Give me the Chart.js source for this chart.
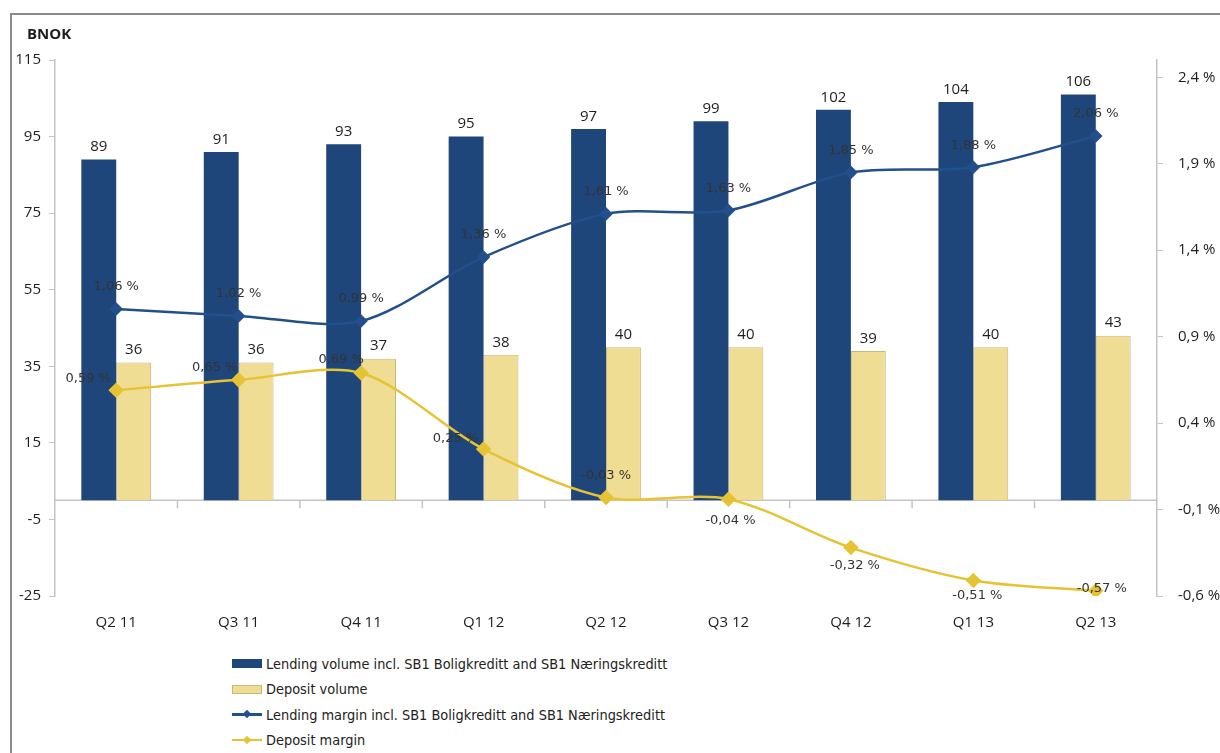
<!DOCTYPE html>
<html>
<head>
<meta charset="utf-8">
<title>Volumes and margins</title>
<script src="https://cdn.jsdelivr.net/npm/chart.js@4.4.1/dist/chart.umd.min.js"></script>
<style>
    body { margin: 0; background: #fff; width: 1220px; height: 753px; overflow: hidden; }
    .frame {
        position: absolute; left: 10px; top: 13px; width: 1210px; height: 740px;
        border-top: 2px solid #8c8c8c; border-left: 2px solid #8c8c8c;
    }
    #chart { position: absolute; left: 0; top: 0; }
    .legend {
        position: absolute; left: 220px; top: 636px;
        font-family: 'DejaVu Sans Condensed', 'DejaVu Sans', sans-serif; font-size: 14.4px; color: #222;
    }
    .legend-item { display: flex; align-items: center; height: 25.5px; }
    .swatch { position: relative; width: 30px; height: 9px; margin-right: 4px; box-sizing: border-box; }
    .swatch .stroke { position: absolute; left: 0; top: 3px; width: 30px; height: 2.5px; }
    .swatch .diamond { position: absolute; left: 12px; top: 1px; width: 6px; height: 6px; transform: rotate(45deg); }
</style>
</head>
<body>
<div class="frame">
    <canvas id="chart" width="1208" height="620"></canvas>
    <div class="legend" id="legend"></div>
</div>
<script>
const quarters = ['Q2 11', 'Q3 11', 'Q4 11', 'Q1 12', 'Q2 12', 'Q3 12', 'Q4 12', 'Q1 13', 'Q2 13'];
const lendingVolume = [89, 91, 93, 95, 97, 99, 102, 104, 106];
const depositVolume = [36, 36, 37, 38, 40, 40, 39, 40, 43];
const lendingMargin = [1.06, 1.02, 0.99, 1.36, 1.61, 1.63, 1.85, 1.88, 2.06];
const depositMargin = [0.59, 0.65, 0.69, 0.25, -0.03, -0.04, -0.32, -0.51, -0.57];
const volumeMin = -25;
const volumeMax = 115;
const volumeStep = 20;
const marginTicks = [-0.6, -0.1, 0.4, 0.9, 1.4, 1.9, 2.4];
const marginMax = 2.5;
const unitLabel = 'BNOK';

const seriesNames = [
    'Lending volume incl. SB1 Boligkreditt and SB1 Næringskreditt',
    'Deposit volume',
    'Lending margin incl. SB1 Boligkreditt and SB1 Næringskreditt',
    'Deposit margin'
];

const DARK_BLUE = '#1f467a';
const LINE_BLUE = '#22508c';
const SAND = '#f0dd94';
const GOLD = '#e6c332';
const AXIS_GREY = '#c4c4c4';
const TEXT = '#1e1e1e';

const formatPercent = v => v.toFixed(2).replace('.', ',') + ' %';

// label offsets for the deposit margin points, the way the original places them
const depositLabelOffsets = [[-28, -12], [-24, -12], [-20, -13], [-28, -10], [0, -22], [2, 21], [4, 18], [4, 15], [6, -2]];

const zeroLinePlugin = {
    id: 'zeroLine',
    beforeDatasetsDraw(chart) {
        const { ctx, chartArea, scales } = chart;
        const y0 = scales.y.getPixelForValue(0);
        ctx.save();
        ctx.strokeStyle = AXIS_GREY;
        ctx.lineWidth = 1.5;
        ctx.beginPath();
        ctx.moveTo(chartArea.left, y0);
        ctx.lineTo(chartArea.right, y0);
        for (let i = 0; i < quarters.length - 1; i++) {
            const x = (scales.x.getPixelForValue(i) + scales.x.getPixelForValue(i + 1)) / 2;
            ctx.moveTo(x, y0);
            ctx.lineTo(x, y0 + 8);
        }
        ctx.stroke();
        ctx.restore();
    }
};

const valueLabelPlugin = {
    id: 'valueLabels',
    afterDatasetsDraw(chart) {
        const { ctx } = chart;
        ctx.save();
        ctx.textAlign = 'center';
        chart.data.datasets.forEach((ds, di) => {
            const meta = chart.getDatasetMeta(di);
            meta.data.forEach((el, i) => {
                const v = ds.data[i];
                if (ds.type === 'bar') {
                    ctx.font = '15px "Open Sans", sans-serif';
                    ctx.fillStyle = TEXT;
                    ctx.textBaseline = 'bottom';
                    ctx.fillText(String(v), el.x, el.y - 5);
                } else {
                    const off = di === 3 ? depositLabelOffsets[i] : [0, -22];
                    ctx.font = '13px "DejaVu Sans", sans-serif';
                    ctx.fillStyle = '#333';
                    ctx.textBaseline = 'middle';
                    ctx.fillText(formatPercent(v), el.x + off[0], el.y + off[1]);
                }
            });
        });
        ctx.font = 'bold 15px "Open Sans", sans-serif';
        ctx.fillStyle = TEXT;
        ctx.textAlign = 'left';
        ctx.textBaseline = 'middle';
        ctx.fillText(unitLabel, chart.chartArea.left - 28, chart.chartArea.top - 25);
        ctx.restore();
    }
};

const chart = new Chart(document.getElementById('chart'), {
    data: {
        labels: quarters,
        datasets: [
            {
                type: 'bar', label: seriesNames[0], data: lendingVolume, yAxisID: 'y', order: 2,
                backgroundColor: DARK_BLUE, borderColor: DARK_BLUE, borderWidth: 0,
                categoryPercentage: 0.57, barPercentage: 1.0
            },
            {
                type: 'bar', label: seriesNames[1], data: depositVolume, yAxisID: 'y', order: 2,
                backgroundColor: SAND, borderColor: '#c9b87c', borderWidth: 1,
                categoryPercentage: 0.57, barPercentage: 1.0
            },
            {
                type: 'line', label: seriesNames[2], data: lendingMargin, yAxisID: 'y1', order: 1,
                borderColor: LINE_BLUE, backgroundColor: LINE_BLUE, borderWidth: 2.5,
                pointStyle: 'rectRot', pointRadius: 5, tension: 0.3
            },
            {
                type: 'line', label: seriesNames[3], data: depositMargin, yAxisID: 'y1', order: 0,
                borderColor: GOLD, backgroundColor: GOLD, borderWidth: 2.5,
                pointStyle: 'rectRot', pointRadius: 6, tension: 0.3
            }
        ]
    },
    options: {
        responsive: false,
        animation: false,
        layout: { padding: { top: 45, left: 0, right: 0, bottom: 0 } },
        plugins: {
            legend: { display: false },
            tooltip: { enabled: false }
        },
        scales: {
            x: {
                grid: { display: false },
                border: { display: false },
                ticks: { padding: 10, color: TEXT, font: { family: 'Open Sans', size: 15 } },
                afterFit: s => { s.height = 39; }
            },
            y: {
                position: 'left',
                min: volumeMin, max: volumeMax,
                ticks: { stepSize: volumeStep, padding: 8, color: TEXT, font: { family: 'Open Sans', size: 15 } },
                grid: { drawOnChartArea: false, tickLength: 6, color: AXIS_GREY },
                border: { color: AXIS_GREY, width: 1.5 },
                afterFit: s => { s.width = 43; }
            },
            y1: {
                position: 'right',
                min: marginTicks[0], max: marginMax,
                afterBuildTicks: s => { s.ticks = marginTicks.map(v => ({ value: v })); },
                ticks: {
                    padding: 15, color: TEXT, font: { family: 'Open Sans', size: 15 },
                    callback: v => v.toFixed(1).replace('.', ',') + ' %'
                },
                grid: { drawOnChartArea: false, tickLength: 6, color: AXIS_GREY },
                border: { color: AXIS_GREY, width: 1.5 },
                afterFit: s => { s.width = 63; }
            }
        }
    },
    plugins: [zeroLinePlugin, valueLabelPlugin]
});

function buildLegend(chart) {
    const box = document.getElementById('legend');
    chart.data.datasets.forEach(ds => {
        const item = document.createElement('div');
        item.className = 'legend-item';
        const swatch = document.createElement('div');
        swatch.className = 'swatch';
        if (ds.type === 'bar') {
            swatch.style.background = ds.backgroundColor;
            if (ds.borderWidth) swatch.style.border = '1px solid ' + ds.borderColor;
        } else {
            swatch.innerHTML = `<span class="stroke" style="background:${ds.borderColor}"></span>` +
                `<span class="diamond" style="background:${ds.borderColor}"></span>`;
        }
        const text = document.createElement('span');
        text.textContent = ds.label;
        item.appendChild(swatch);
        item.appendChild(text);
        box.appendChild(item);
    });
}

buildLegend(chart);
</script>
</body>
</html>
